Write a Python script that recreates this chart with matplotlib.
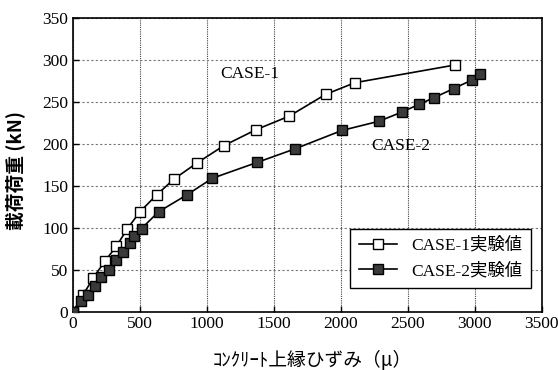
import matplotlib.pyplot as plt

plt.rcParams['font.family'] = ['Liberation Serif', 'Noto Sans CJK JP', 'DejaVu Sans']

# CASE-1 experimental values
case1_strain = [0, 75, 150, 237, 324, 406, 499, 623, 753, 923, 1127, 1367, 1613, 1885, 2105, 2848]
case1_load = [0, 20, 40, 60, 78, 99, 119, 139, 158, 177, 198, 217, 233, 259, 273, 294]

# CASE-2 experimental values
case2_strain = [0, 62, 112, 162, 212, 269, 319, 369, 424, 454, 511, 638, 848, 1040, 1376,
                1656, 2007, 2284, 2456, 2581, 2693, 2843, 2975, 3042]
case2_load = [0, 12, 20, 31, 41, 50, 61, 71, 82, 90, 99, 119, 139, 159, 178,
              194, 216, 227, 238, 247, 255, 266, 276, 283]

xticks = [0, 500, 1000, 1500, 2000, 2500, 3000, 3500]
yticks = [0, 50, 100, 150, 200, 250, 300, 350]

fig = plt.figure(figsize=(5.58, 3.70), dpi=100)
ax = fig.add_axes([0.131, 0.158, 0.840, 0.793])

ax.plot(case1_strain, case1_load, color='black', lw=1.2, marker='s', ms=7,
        mfc='white', mec='black', mew=1.0, label='CASE-1実験値', zorder=3)
ax.plot(case2_strain, case2_load, color='black', lw=1.2, marker='s', ms=7,
        mfc='#3a3a3a', mec='black', mew=1.0, label='CASE-2実験値', zorder=3)

ax.set_xlim(0, 3500)
ax.set_ylim(0, 350)
ax.set_xticks(xticks)
ax.set_yticks(yticks)
ax.tick_params(direction='in', labelsize=12.5, length=4, width=1)
ax.xaxis.grid(True, color='#444444', lw=0.8, ls=(0, (1, 1)))
ax.yaxis.grid(True, color='#777777', lw=0.8, ls=(0, (2, 2)))
for s in ax.spines.values():
    s.set_linewidth(1.2)

ax.text(1320, 283, 'CASE-1', fontsize=12.5, ha='center', va='center')
ax.text(2450, 197, 'CASE-2', fontsize=12.5, ha='center', va='center')

# axis labels placed as figure text so they sit where the reference has them
cjk = ['Noto Sans CJK JP', 'Liberation Serif']
fig.text(0.559, 0.026, 'ｺﾝｸﾘｰﾄ上縁ひずみ（μ）', fontsize=13.5, family=cjk,
         ha='center', va='center')
fig.text(0.027, 0.54, '載荷荷重 (kN)', fontsize=13.5, family=cjk, fontweight='bold',
         rotation=90, ha='center', va='center')

leg = ax.legend(loc='lower right', bbox_to_anchor=(0.977, 0.081), borderaxespad=0,
                fontsize=12.5, fancybox=False, framealpha=1, edgecolor='black',
                handlelength=2.2, borderpad=0.5, labelspacing=0.5)
leg.get_frame().set_linewidth(1.0)

fig.savefig('out.png', dpi=100)
